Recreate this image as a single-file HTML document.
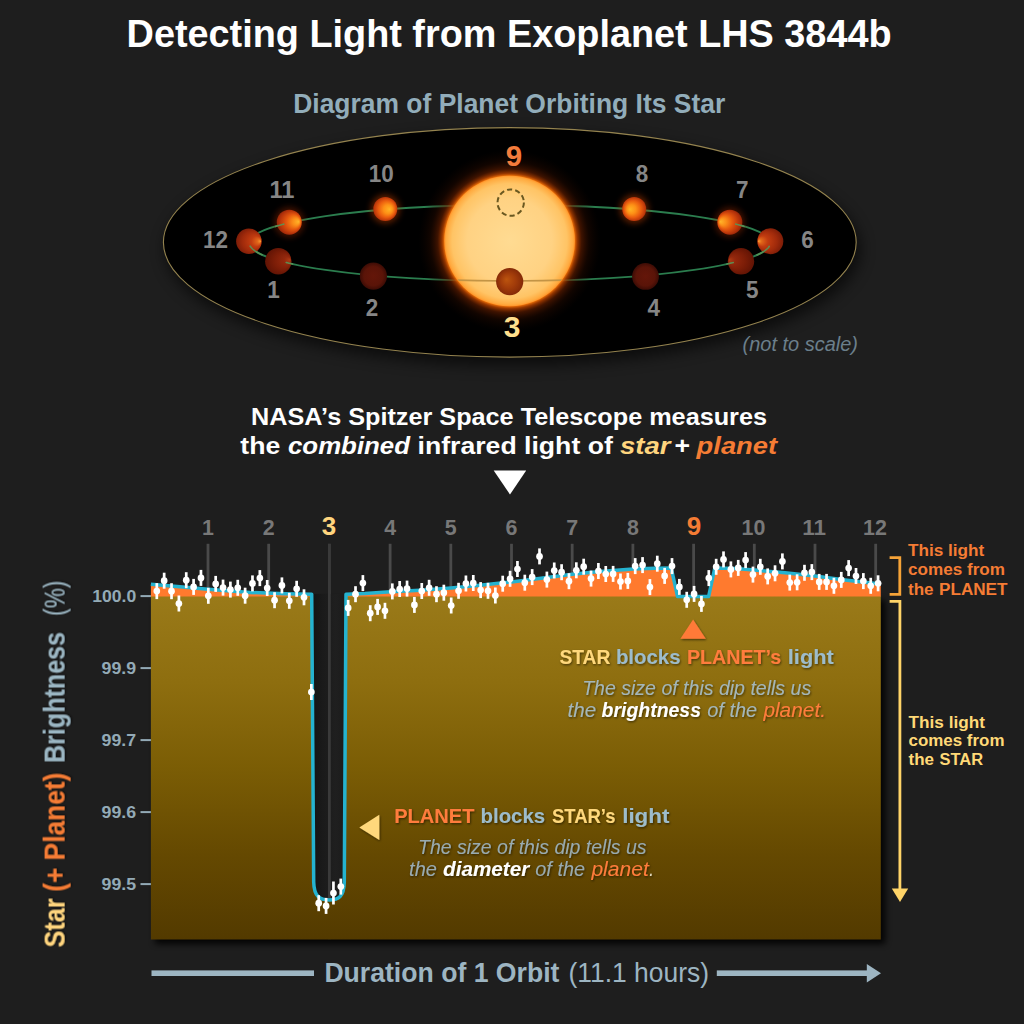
<!DOCTYPE html>
<html><head><meta charset="utf-8"><title>Detecting Light from Exoplanet LHS 3844b</title>
<style>
html,body{margin:0;padding:0;background:#1e1e1e;}
body{width:1024px;height:1024px;overflow:hidden;font-family:"Liberation Sans",sans-serif;}
svg{display:block;font-family:"Liberation Sans",sans-serif;}
</style></head><body>
<svg width="1024" height="1024" viewBox="0 0 1024 1024">
<defs>
<radialGradient id="gStar" cx="50%" cy="50%" r="50%">
<stop offset="0" stop-color="#ffdb92"/><stop offset="0.65" stop-color="#ffd283"/><stop offset="0.88" stop-color="#ffc465"/><stop offset="0.97" stop-color="#ffab40"/><stop offset="1" stop-color="#ff942a"/>
</radialGradient>
<radialGradient id="gGlow" cx="50%" cy="50%" r="50%">
<stop offset="0.675" stop-color="#f87808" stop-opacity="1"/><stop offset="0.705" stop-color="#b04000" stop-opacity="0.85"/><stop offset="0.75" stop-color="#6a2000" stop-opacity="0.6"/><stop offset="0.83" stop-color="#3a1000" stop-opacity="0.3"/><stop offset="0.95" stop-color="#200800" stop-opacity="0"/>
</radialGradient>
<radialGradient id="gLitR" cx="50%" cy="50%" r="56%" fx="88%" fy="48%">
<stop offset="0" stop-color="#ffb62a"/><stop offset="0.26" stop-color="#fb8c18"/><stop offset="0.54" stop-color="#e4560e"/><stop offset="0.82" stop-color="#b4320a"/><stop offset="1" stop-color="#862007"/>
</radialGradient>
<radialGradient id="gLitL" cx="50%" cy="50%" r="56%" fx="12%" fy="48%">
<stop offset="0" stop-color="#ffb62a"/><stop offset="0.26" stop-color="#fb8c18"/><stop offset="0.54" stop-color="#e4560e"/><stop offset="0.82" stop-color="#b4320a"/><stop offset="1" stop-color="#862007"/>
</radialGradient>
<radialGradient id="gLitC" cx="50%" cy="50%" r="54%" fx="68%" fy="52%">
<stop offset="0" stop-color="#ffb424"/><stop offset="0.35" stop-color="#fd9016"/><stop offset="0.65" stop-color="#ea5c0e"/><stop offset="0.88" stop-color="#c03a0a"/><stop offset="1" stop-color="#962608"/>
</radialGradient>
<radialGradient id="gLitC2" cx="50%" cy="50%" r="54%" fx="32%" fy="52%">
<stop offset="0" stop-color="#ffb424"/><stop offset="0.35" stop-color="#fd9016"/><stop offset="0.65" stop-color="#ea5c0e"/><stop offset="0.88" stop-color="#c03a0a"/><stop offset="1" stop-color="#962608"/>
</radialGradient>
<radialGradient id="gDark" cx="50%" cy="50%" r="50%">
<stop offset="0" stop-color="#641609"/><stop offset="0.7" stop-color="#5a1408"/><stop offset="1" stop-color="#3c0c05"/>
</radialGradient>
<radialGradient id="gDarkR" cx="50%" cy="50%" r="56%" fx="95%" fy="45%">
<stop offset="0" stop-color="#b03c14"/><stop offset="0.22" stop-color="#94280d"/><stop offset="0.6" stop-color="#7c1d07"/><stop offset="1" stop-color="#5c1204"/>
</radialGradient>
<radialGradient id="gDarkL" cx="50%" cy="50%" r="56%" fx="5%" fy="45%">
<stop offset="0" stop-color="#b03c14"/><stop offset="0.22" stop-color="#94280d"/><stop offset="0.6" stop-color="#7c1d07"/><stop offset="1" stop-color="#5c1204"/>
</radialGradient>
<radialGradient id="gHalfR" cx="50%" cy="50%" r="56%" fx="96%" fy="50%">
<stop offset="0" stop-color="#f89c30"/><stop offset="0.13" stop-color="#e0661a"/><stop offset="0.36" stop-color="#c23c10"/><stop offset="0.7" stop-color="#a02a0b"/><stop offset="1" stop-color="#741a07"/>
</radialGradient>
<radialGradient id="gHalfL" cx="50%" cy="50%" r="56%" fx="4%" fy="50%">
<stop offset="0" stop-color="#f89c30"/><stop offset="0.13" stop-color="#e0661a"/><stop offset="0.36" stop-color="#c23c10"/><stop offset="0.7" stop-color="#a02a0b"/><stop offset="1" stop-color="#741a07"/>
</radialGradient>
<radialGradient id="gP3" cx="50%" cy="50%" r="50%" fx="38%" fy="42%">
<stop offset="0" stop-color="#bc540e"/><stop offset="0.55" stop-color="#a23c0a"/><stop offset="1" stop-color="#842a07"/>
</radialGradient>
<linearGradient id="gDip" x1="0" y1="0" x2="1" y2="0"><stop offset="0" stop-color="#131313"/><stop offset="0.3" stop-color="#1a1a1a"/><stop offset="0.7" stop-color="#1f1f1f"/><stop offset="1" stop-color="#1b1b1b"/></linearGradient>
<linearGradient id="gGold" x1="0" y1="0" x2="0" y2="1">
<stop offset="0" stop-color="#9a7a19"/><stop offset="0.25" stop-color="#8e6e0f"/><stop offset="0.5" stop-color="#7b5d05"/><stop offset="0.75" stop-color="#654901"/><stop offset="1" stop-color="#533a00"/>
</linearGradient>
<filter id="blur6" x="-20%" y="-30%" width="140%" height="160%"><feGaussianBlur stdDeviation="7.5"/></filter>
<filter id="blur3" x="-50%" y="-50%" width="200%" height="200%"><feGaussianBlur stdDeviation="3"/></filter>
<filter id="blur35" x="-5%" y="-5%" width="110%" height="110%"><feGaussianBlur stdDeviation="3.2"/></filter>
<filter id="blur2" x="-50%" y="-50%" width="200%" height="200%"><feGaussianBlur stdDeviation="2.2"/></filter>
<filter id="tsh" x="-10%" y="-30%" width="120%" height="170%"><feDropShadow dx="0.8" dy="1.2" stdDeviation="1" flood-color="#000" flood-opacity="0.55"/></filter>
<clipPath id="clipStar"><circle cx="509.8" cy="241" r="65"/></clipPath>
</defs>
<rect width="1024" height="1024" fill="#1e1e1e"/>

<text x="126.6" y="47" font-size="39.3" font-weight="bold" font-style="normal" fill="#ffffff" text-anchor="start" textLength="765.0" lengthAdjust="spacingAndGlyphs" >Detecting Light from Exoplanet LHS 3844b</text>
<text x="293.2" y="113" font-size="28" font-weight="bold" font-style="normal" fill="#92adba" text-anchor="start" textLength="432.0" lengthAdjust="spacingAndGlyphs" >Diagram of Planet Orbiting Its Star</text>
<ellipse cx="512.8" cy="249.35" rx="347.4" ry="115.75" fill="#000" opacity="0.62" filter="url(#blur6)"/>
<ellipse cx="509.8" cy="242.35" rx="346.4" ry="114.75" fill="#000000" stroke="#94834f" stroke-width="1.1"/>
<ellipse cx="509.8" cy="243" rx="260.5" ry="38" fill="none" stroke="#2b7d4e" stroke-width="1.8"/>
<circle cx="385.3" cy="208.9" r="14.5" fill="#e04800" opacity="0.42" filter="url(#blur3)"/><circle cx="385.3" cy="208.9" r="12" fill="url(#gLitC)"/>
<circle cx="634.2" cy="209" r="14.5" fill="#e04800" opacity="0.42" filter="url(#blur3)"/><circle cx="634.2" cy="209" r="12" fill="url(#gLitC2)"/>
<circle cx="289.3" cy="222.2" r="15.0" fill="#a02c00" opacity="0.42" filter="url(#blur3)"/><circle cx="289.3" cy="222.2" r="12.5" fill="url(#gLitR)"/>
<circle cx="729.8" cy="222.2" r="15.0" fill="#a02c00" opacity="0.42" filter="url(#blur3)"/><circle cx="729.8" cy="222.2" r="12.5" fill="url(#gLitL)"/>
<circle cx="509.6" cy="241" r="96" fill="url(#gGlow)"/>
<circle cx="509.6" cy="241" r="65.3" fill="url(#gStar)"/>
<circle cx="510.7" cy="202.6" r="13.2" fill="none" stroke="#6a5820" stroke-width="2" stroke-dasharray="5.2 3.1"/>
<g clip-path="url(#clipStar)"><path d="M 249.3 243 A 260.5 38 0 0 0 770.3 243" fill="none" stroke="#c39445" stroke-width="1.7"/></g>
<circle cx="248.9" cy="241.3" r="12.8" fill="url(#gHalfR)"/>
<circle cx="770.3" cy="241.2" r="13" fill="url(#gHalfL)"/>
<circle cx="278.3" cy="261.2" r="13.2" fill="url(#gDarkR)"/>
<circle cx="741" cy="261.3" r="13.2" fill="url(#gDarkL)"/>
<circle cx="373.4" cy="276.1" r="13.6" fill="url(#gDark)"/>
<circle cx="645.5" cy="276.4" r="13.4" fill="url(#gDark)"/>
<circle cx="509.7" cy="281.6" r="13.6" fill="url(#gP3)"/>
<polyline points="250.2,246.2 251.4,247.8 252.6,249.0 253.7,250.0 254.9,250.9 256.1,251.6 257.3,252.3 258.5,253.0 259.6,253.6 260.8,254.2 262.0,254.7" fill="none" stroke="#5a9558" stroke-width="1.6" stroke-linecap="round" opacity="0.9"/>
<polyline points="275.5,226.4 276.3,226.1 277.2,225.9 278.0,225.7 278.8,225.4 279.6,225.2 280.5,225.0 281.3,224.7 282.1,224.5 283.0,224.3 283.8,224.1" fill="none" stroke="#5a9558" stroke-width="1.6" stroke-linecap="round" opacity="0.9"/>
<polyline points="286.2,262.5 286.8,262.6 287.5,262.8 288.1,263.0 288.7,263.1 289.4,263.2 290.0,263.4 290.6,263.5 291.2,263.7 291.9,263.8 292.5,264.0" fill="none" stroke="#5a9558" stroke-width="1.6" stroke-linecap="round" opacity="0.9"/>
<polyline points="769.3,246.3 768.1,248.0 766.8,249.2 765.6,250.2 764.4,251.1 763.1,251.8 761.9,252.6 760.7,253.2 759.5,253.8 758.2,254.4 757.0,255.0" fill="none" stroke="#5a9558" stroke-width="1.6" stroke-linecap="round" opacity="0.9"/>
<polyline points="744.0,226.4 743.2,226.1 742.3,225.9 741.5,225.6 740.7,225.4 739.9,225.2 739.0,224.9 738.2,224.7 737.4,224.5 736.5,224.3 735.7,224.1" fill="none" stroke="#5a9558" stroke-width="1.6" stroke-linecap="round" opacity="0.9"/>
<polyline points="733.3,262.5 732.7,262.7 732.0,262.8 731.4,263.0 730.8,263.1 730.1,263.3 729.5,263.4 728.9,263.6 728.3,263.7 727.6,263.8 727.0,264.0" fill="none" stroke="#5a9558" stroke-width="1.6" stroke-linecap="round" opacity="0.9"/>
<text x="642" y="181.8" font-size="23.5" font-weight="bold" font-style="normal" fill="#868686" text-anchor="middle" textLength="12.5" lengthAdjust="spacingAndGlyphs" >8</text>
<text x="742.2" y="198.4" font-size="23.5" font-weight="bold" font-style="normal" fill="#868686" text-anchor="middle" textLength="12.5" lengthAdjust="spacingAndGlyphs" >7</text>
<text x="807.5" y="248.3" font-size="23.5" font-weight="bold" font-style="normal" fill="#868686" text-anchor="middle" textLength="12.5" lengthAdjust="spacingAndGlyphs" >6</text>
<text x="752.3" y="297.6" font-size="23.5" font-weight="bold" font-style="normal" fill="#868686" text-anchor="middle" textLength="12.5" lengthAdjust="spacingAndGlyphs" >5</text>
<text x="653.7" y="315.7" font-size="23.5" font-weight="bold" font-style="normal" fill="#868686" text-anchor="middle" textLength="12.5" lengthAdjust="spacingAndGlyphs" >4</text>
<text x="371.9" y="315.7" font-size="23.5" font-weight="bold" font-style="normal" fill="#868686" text-anchor="middle" textLength="12.5" lengthAdjust="spacingAndGlyphs" >2</text>
<text x="273.6" y="297.7" font-size="23.5" font-weight="bold" font-style="normal" fill="#868686" text-anchor="middle" textLength="12.5" lengthAdjust="spacingAndGlyphs" >1</text>
<text x="215.6" y="248.3" font-size="23.5" font-weight="bold" font-style="normal" fill="#868686" text-anchor="middle" textLength="25.0" lengthAdjust="spacingAndGlyphs" >12</text>
<text x="282" y="198.2" font-size="23.5" font-weight="bold" font-style="normal" fill="#868686" text-anchor="middle" textLength="25.0" lengthAdjust="spacingAndGlyphs" >11</text>
<text x="381.3" y="181.8" font-size="23.5" font-weight="bold" font-style="normal" fill="#868686" text-anchor="middle" textLength="25.0" lengthAdjust="spacingAndGlyphs" >10</text>
<text x="514" y="165.9" font-size="29.5" font-weight="bold" font-style="normal" fill="#f47c3c" text-anchor="middle" >9</text>
<text x="512" y="337" font-size="30" font-weight="bold" font-style="normal" fill="#ffdf8c" text-anchor="middle" >3</text>
<text x="742.5" y="350.6" font-size="20" font-weight="normal" font-style="italic" fill="#6b7f8b" text-anchor="start" textLength="115.5" lengthAdjust="spacingAndGlyphs" >(not to scale)</text>
<text x="251" y="424.6" font-size="24.8" font-weight="bold" font-style="normal" fill="#fff" text-anchor="start" textLength="516.0" lengthAdjust="spacingAndGlyphs" >NASA’s Spitzer Space Telescope measures</text>
<text x="240.3" y="454" font-size="24.8" font-weight="bold" font-style="normal" fill="#fff" text-anchor="start" textLength="40.0" lengthAdjust="spacingAndGlyphs" >the</text>
<text x="288" y="454" font-size="24.8" font-weight="bold" font-style="italic" fill="#fff" text-anchor="start" textLength="122.0" lengthAdjust="spacingAndGlyphs" >combined</text>
<text x="417.5" y="454" font-size="24.8" font-weight="bold" font-style="normal" fill="#fff" text-anchor="start" textLength="195.3" lengthAdjust="spacingAndGlyphs" >infrared light of</text>
<text x="620" y="454" font-size="24.8" font-weight="bold" font-style="italic" fill="#ffd57e" text-anchor="start" textLength="50.5" lengthAdjust="spacingAndGlyphs" >star</text>
<text x="674.6" y="454" font-size="24.8" font-weight="bold" font-style="normal" fill="#fff" text-anchor="start" textLength="15.6" lengthAdjust="spacingAndGlyphs" >+</text>
<text x="696.6" y="454" font-size="24.8" font-weight="bold" font-style="italic" fill="#f57c34" text-anchor="start" textLength="80.5" lengthAdjust="spacingAndGlyphs" >planet</text>
<polygon points="493.7,470.6 526.2,470.6 510,494.6" fill="#ffffff"/>
<rect x="206.6" y="543.8" width="2.8" height="56.2" fill="#4a4a4a"/>
<rect x="267.3" y="543.8" width="2.8" height="56.2" fill="#4a4a4a"/>
<rect x="328.0" y="543.8" width="2.8" height="396.2" fill="#3d3d3d"/>
<rect x="388.7" y="543.8" width="2.8" height="56.2" fill="#4a4a4a"/>
<rect x="449.4" y="543.8" width="2.8" height="56.2" fill="#4a4a4a"/>
<rect x="510.1" y="543.8" width="2.8" height="56.2" fill="#4a4a4a"/>
<rect x="570.8" y="543.8" width="2.8" height="56.2" fill="#4a4a4a"/>
<rect x="631.5" y="543.8" width="2.8" height="56.2" fill="#4a4a4a"/>
<rect x="692.2" y="543.8" width="2.8" height="56.2" fill="#4a4a4a"/>
<rect x="752.9" y="543.8" width="2.8" height="56.2" fill="#4a4a4a"/>
<rect x="813.6" y="543.8" width="2.8" height="56.2" fill="#4a4a4a"/>
<rect x="874.3" y="543.8" width="2.8" height="56.2" fill="#4a4a4a"/>
<rect x="154.9" y="600.1" width="730.4" height="343.9" fill="#000" opacity="0.85" filter="url(#blur35)"/>
<rect x="312" y="594" width="34" height="306" fill="url(#gDip)"/>
<rect x="328.0" y="543.8" width="2.8" height="356" fill="#3a3a3a"/>
<path d="M 150.9 596.1 L 311.7 596.1 L 313.7 882 C 314.0 896.9 320 899.9 329.2 899.9 C 338.4 899.9 344.0 896.9 344.3 882 L 346.0 596.1 L 880.8 596.1 L 880.8 939.5 L 150.9 939.5 Z" fill="url(#gGold)"/>
<path d="M 150.9 584.3 L 180.0 586.8 L 208.0 589.3 L 250.0 592.4 L 285.0 593.8 L 311.6 594.3 L 311.7 596.6 L 150.9 596.6 Z" fill="#ff7a2e"/>
<path d="M 346.0 594.2 L 365.0 593.5 L 390.6 591.8 L 420.0 590.2 L 451.0 587.9 L 480.0 585.3 L 511.4 581.9 L 541.0 578.3 L 572.3 574.3 L 600.0 571.4 L 633.0 569.0 L 655.0 568.2 L 671.2 568.0 L 677.6 596.6 L 708.6 596.6 L 714.8 568.0 L 735.0 568.6 L 754.4 570.0 L 785.0 572.8 L 815.0 576.0 L 845.0 580.0 L 875.7 583.6 L 880.8 584.2 L 880.8 596.6 L 346.0 596.6 Z" fill="#ff7a2e"/>
<path d="M 150.9 584.3 L 180.0 586.8 L 208.0 589.3 L 250.0 592.4 L 285.0 593.8 L 311.6 594.3 L 311.7 594.3 L 313.7 882 C 314.0 896.9 320 899.9 329.2 899.9 C 338.4 899.9 344.0 896.9 344.3 882 L 346.0 594.2 L 365.0 593.5 L 390.6 591.8 L 420.0 590.2 L 451.0 587.9 L 480.0 585.3 L 511.4 581.9 L 541.0 578.3 L 572.3 574.3 L 600.0 571.4 L 633.0 569.0 L 655.0 568.2 L 671.2 568.0 L 677.6 596.6 L 708.6 596.6 L 714.8 568.0 L 735.0 568.6 L 754.4 570.0 L 785.0 572.8 L 815.0 576.0 L 845.0 580.0 L 875.7 583.6 L 880.8 584.2" fill="none" stroke="#25b3d0" stroke-width="3.5" stroke-linejoin="round"/>
<rect x="155.45" y="583.1" width="2.7" height="16" fill="#fff"/><circle cx="156.80" cy="591.1" r="3.35" fill="#fff"/>
<rect x="162.81" y="572.7" width="2.7" height="16" fill="#fff"/><circle cx="164.16" cy="580.7" r="3.35" fill="#fff"/>
<rect x="170.17" y="583.2" width="2.7" height="16" fill="#fff"/><circle cx="171.52" cy="591.2" r="3.35" fill="#fff"/>
<rect x="177.53" y="595.5" width="2.7" height="16" fill="#fff"/><circle cx="178.88" cy="603.5" r="3.35" fill="#fff"/>
<rect x="184.89" y="572.2" width="2.7" height="16" fill="#fff"/><circle cx="186.24" cy="580.2" r="3.35" fill="#fff"/>
<rect x="192.25" y="578.9" width="2.7" height="16" fill="#fff"/><circle cx="193.60" cy="586.9" r="3.35" fill="#fff"/>
<rect x="199.61" y="569.9" width="2.7" height="16" fill="#fff"/><circle cx="200.96" cy="577.9" r="3.35" fill="#fff"/>
<rect x="206.97" y="587.8" width="2.7" height="16" fill="#fff"/><circle cx="208.32" cy="595.8" r="3.35" fill="#fff"/>
<rect x="214.33" y="575.9" width="2.7" height="16" fill="#fff"/><circle cx="215.68" cy="583.9" r="3.35" fill="#fff"/>
<rect x="221.69" y="579.6" width="2.7" height="16" fill="#fff"/><circle cx="223.04" cy="587.6" r="3.35" fill="#fff"/>
<rect x="229.05" y="581.6" width="2.7" height="16" fill="#fff"/><circle cx="230.40" cy="589.6" r="3.35" fill="#fff"/>
<rect x="236.41" y="579.8" width="2.7" height="16" fill="#fff"/><circle cx="237.76" cy="587.8" r="3.35" fill="#fff"/>
<rect x="243.77" y="587.7" width="2.7" height="16" fill="#fff"/><circle cx="245.12" cy="595.7" r="3.35" fill="#fff"/>
<rect x="251.13" y="575.4" width="2.7" height="16" fill="#fff"/><circle cx="252.48" cy="583.4" r="3.35" fill="#fff"/>
<rect x="258.49" y="570.1" width="2.7" height="16" fill="#fff"/><circle cx="259.84" cy="578.1" r="3.35" fill="#fff"/>
<rect x="265.85" y="580.0" width="2.7" height="16" fill="#fff"/><circle cx="267.20" cy="588.0" r="3.35" fill="#fff"/>
<rect x="273.21" y="592.2" width="2.7" height="16" fill="#fff"/><circle cx="274.56" cy="600.2" r="3.35" fill="#fff"/>
<rect x="280.57" y="577.4" width="2.7" height="16" fill="#fff"/><circle cx="281.92" cy="585.4" r="3.35" fill="#fff"/>
<rect x="287.93" y="592.8" width="2.7" height="16" fill="#fff"/><circle cx="289.28" cy="600.8" r="3.35" fill="#fff"/>
<rect x="295.29" y="580.8" width="2.7" height="16" fill="#fff"/><circle cx="296.64" cy="588.8" r="3.35" fill="#fff"/>
<rect x="302.65" y="589.3" width="2.7" height="16" fill="#fff"/><circle cx="304.00" cy="597.3" r="3.35" fill="#fff"/>
<rect x="310.01" y="684.0" width="2.7" height="16" fill="#fff"/><circle cx="311.36" cy="692.0" r="3.35" fill="#fff"/>
<rect x="317.37" y="895.2" width="2.7" height="16" fill="#fff"/><circle cx="318.72" cy="903.2" r="3.35" fill="#fff"/>
<rect x="324.73" y="897.9" width="2.7" height="16" fill="#fff"/><circle cx="326.08" cy="905.9" r="3.35" fill="#fff"/>
<rect x="332.09" y="881.5" width="2.7" height="23.0" fill="#fff"/><circle cx="333.44" cy="893.0" r="3.35" fill="#fff"/>
<rect x="339.45" y="878.6" width="2.7" height="16" fill="#fff"/><circle cx="340.80" cy="886.6" r="3.35" fill="#fff"/>
<rect x="346.81" y="599.9" width="2.7" height="16" fill="#fff"/><circle cx="348.16" cy="607.9" r="3.35" fill="#fff"/>
<rect x="354.17" y="586.2" width="2.7" height="16" fill="#fff"/><circle cx="355.52" cy="594.2" r="3.35" fill="#fff"/>
<rect x="361.53" y="575.1" width="2.7" height="16" fill="#fff"/><circle cx="362.88" cy="583.1" r="3.35" fill="#fff"/>
<rect x="368.89" y="605.2" width="2.7" height="16" fill="#fff"/><circle cx="370.24" cy="613.2" r="3.35" fill="#fff"/>
<rect x="376.25" y="598.9" width="2.7" height="16" fill="#fff"/><circle cx="377.60" cy="606.9" r="3.35" fill="#fff"/>
<rect x="383.61" y="602.8" width="2.7" height="16" fill="#fff"/><circle cx="384.96" cy="610.8" r="3.35" fill="#fff"/>
<rect x="390.97" y="583.4" width="2.7" height="16" fill="#fff"/><circle cx="392.32" cy="591.4" r="3.35" fill="#fff"/>
<rect x="398.33" y="581.0" width="2.7" height="16" fill="#fff"/><circle cx="399.68" cy="589.0" r="3.35" fill="#fff"/>
<rect x="405.69" y="580.6" width="2.7" height="16" fill="#fff"/><circle cx="407.04" cy="588.6" r="3.35" fill="#fff"/>
<rect x="413.05" y="596.9" width="2.7" height="16" fill="#fff"/><circle cx="414.40" cy="604.9" r="3.35" fill="#fff"/>
<rect x="420.41" y="583.0" width="2.7" height="16" fill="#fff"/><circle cx="421.76" cy="591.0" r="3.35" fill="#fff"/>
<rect x="427.77" y="579.8" width="2.7" height="16" fill="#fff"/><circle cx="429.12" cy="587.8" r="3.35" fill="#fff"/>
<rect x="435.13" y="586.2" width="2.7" height="16" fill="#fff"/><circle cx="436.48" cy="594.2" r="3.35" fill="#fff"/>
<rect x="442.49" y="584.7" width="2.7" height="16" fill="#fff"/><circle cx="443.84" cy="592.7" r="3.35" fill="#fff"/>
<rect x="449.85" y="597.5" width="2.7" height="16" fill="#fff"/><circle cx="451.20" cy="605.5" r="3.35" fill="#fff"/>
<rect x="457.21" y="582.8" width="2.7" height="16" fill="#fff"/><circle cx="458.56" cy="590.8" r="3.35" fill="#fff"/>
<rect x="464.57" y="575.5" width="2.7" height="16" fill="#fff"/><circle cx="465.92" cy="583.5" r="3.35" fill="#fff"/>
<rect x="471.93" y="575.0" width="2.7" height="16" fill="#fff"/><circle cx="473.28" cy="583.0" r="3.35" fill="#fff"/>
<rect x="479.29" y="582.1" width="2.7" height="16" fill="#fff"/><circle cx="480.64" cy="590.1" r="3.35" fill="#fff"/>
<rect x="486.65" y="582.8" width="2.7" height="16" fill="#fff"/><circle cx="488.00" cy="590.8" r="3.35" fill="#fff"/>
<rect x="494.01" y="587.5" width="2.7" height="16" fill="#fff"/><circle cx="495.36" cy="595.5" r="3.35" fill="#fff"/>
<rect x="501.37" y="575.7" width="2.7" height="16" fill="#fff"/><circle cx="502.72" cy="583.7" r="3.35" fill="#fff"/>
<rect x="508.73" y="570.8" width="2.7" height="16" fill="#fff"/><circle cx="510.08" cy="578.8" r="3.35" fill="#fff"/>
<rect x="516.09" y="561.0" width="2.7" height="16" fill="#fff"/><circle cx="517.44" cy="569.0" r="3.35" fill="#fff"/>
<rect x="523.45" y="574.7" width="2.7" height="16" fill="#fff"/><circle cx="524.80" cy="582.7" r="3.35" fill="#fff"/>
<rect x="530.81" y="569.1" width="2.7" height="16" fill="#fff"/><circle cx="532.16" cy="577.1" r="3.35" fill="#fff"/>
<rect x="538.17" y="548.4" width="2.7" height="16" fill="#fff"/><circle cx="539.52" cy="556.4" r="3.35" fill="#fff"/>
<rect x="545.53" y="571.6" width="2.7" height="16" fill="#fff"/><circle cx="546.88" cy="579.6" r="3.35" fill="#fff"/>
<rect x="552.89" y="562.5" width="2.7" height="16" fill="#fff"/><circle cx="554.24" cy="570.5" r="3.35" fill="#fff"/>
<rect x="560.25" y="564.2" width="2.7" height="16" fill="#fff"/><circle cx="561.60" cy="572.2" r="3.35" fill="#fff"/>
<rect x="567.61" y="573.2" width="2.7" height="16" fill="#fff"/><circle cx="568.96" cy="581.2" r="3.35" fill="#fff"/>
<rect x="574.97" y="562.3" width="2.7" height="16" fill="#fff"/><circle cx="576.32" cy="570.3" r="3.35" fill="#fff"/>
<rect x="582.33" y="558.7" width="2.7" height="16" fill="#fff"/><circle cx="583.68" cy="566.7" r="3.35" fill="#fff"/>
<rect x="589.69" y="570.6" width="2.7" height="16" fill="#fff"/><circle cx="591.04" cy="578.6" r="3.35" fill="#fff"/>
<rect x="597.05" y="563.0" width="2.7" height="16" fill="#fff"/><circle cx="598.40" cy="571.0" r="3.35" fill="#fff"/>
<rect x="604.41" y="566.0" width="2.7" height="16" fill="#fff"/><circle cx="605.76" cy="574.0" r="3.35" fill="#fff"/>
<rect x="611.77" y="565.9" width="2.7" height="16" fill="#fff"/><circle cx="613.12" cy="573.9" r="3.35" fill="#fff"/>
<rect x="619.13" y="573.5" width="2.7" height="16" fill="#fff"/><circle cx="620.48" cy="581.5" r="3.35" fill="#fff"/>
<rect x="626.49" y="572.9" width="2.7" height="16" fill="#fff"/><circle cx="627.84" cy="580.9" r="3.35" fill="#fff"/>
<rect x="633.85" y="558.1" width="2.7" height="16" fill="#fff"/><circle cx="635.20" cy="566.1" r="3.35" fill="#fff"/>
<rect x="641.21" y="557.1" width="2.7" height="16" fill="#fff"/><circle cx="642.56" cy="565.1" r="3.35" fill="#fff"/>
<rect x="648.57" y="579.1" width="2.7" height="16" fill="#fff"/><circle cx="649.92" cy="587.1" r="3.35" fill="#fff"/>
<rect x="655.93" y="555.7" width="2.7" height="16" fill="#fff"/><circle cx="657.28" cy="563.7" r="3.35" fill="#fff"/>
<rect x="663.29" y="567.9" width="2.7" height="16" fill="#fff"/><circle cx="664.64" cy="575.9" r="3.35" fill="#fff"/>
<rect x="670.65" y="558.1" width="2.7" height="16" fill="#fff"/><circle cx="672.00" cy="566.1" r="3.35" fill="#fff"/>
<rect x="678.01" y="578.9" width="2.7" height="16" fill="#fff"/><circle cx="679.36" cy="586.9" r="3.35" fill="#fff"/>
<rect x="685.37" y="591.8" width="2.7" height="16" fill="#fff"/><circle cx="686.72" cy="599.8" r="3.35" fill="#fff"/>
<rect x="692.73" y="585.9" width="2.7" height="16" fill="#fff"/><circle cx="694.08" cy="593.9" r="3.35" fill="#fff"/>
<rect x="700.09" y="595.9" width="2.7" height="16" fill="#fff"/><circle cx="701.44" cy="603.9" r="3.35" fill="#fff"/>
<rect x="707.45" y="570.1" width="2.7" height="16" fill="#fff"/><circle cx="708.80" cy="578.1" r="3.35" fill="#fff"/>
<rect x="714.81" y="558.8" width="2.7" height="16" fill="#fff"/><circle cx="716.16" cy="566.8" r="3.35" fill="#fff"/>
<rect x="722.17" y="551.4" width="2.7" height="16" fill="#fff"/><circle cx="723.52" cy="559.4" r="3.35" fill="#fff"/>
<rect x="729.53" y="561.4" width="2.7" height="16" fill="#fff"/><circle cx="730.88" cy="569.4" r="3.35" fill="#fff"/>
<rect x="736.89" y="559.9" width="2.7" height="16" fill="#fff"/><circle cx="738.24" cy="567.9" r="3.35" fill="#fff"/>
<rect x="744.25" y="552.1" width="2.7" height="16" fill="#fff"/><circle cx="745.60" cy="560.1" r="3.35" fill="#fff"/>
<rect x="751.61" y="566.6" width="2.7" height="16" fill="#fff"/><circle cx="752.96" cy="574.6" r="3.35" fill="#fff"/>
<rect x="758.97" y="558.8" width="2.7" height="16" fill="#fff"/><circle cx="760.32" cy="566.8" r="3.35" fill="#fff"/>
<rect x="766.33" y="568.4" width="2.7" height="16" fill="#fff"/><circle cx="767.68" cy="576.4" r="3.35" fill="#fff"/>
<rect x="773.69" y="565.3" width="2.7" height="16" fill="#fff"/><circle cx="775.04" cy="573.3" r="3.35" fill="#fff"/>
<rect x="781.05" y="553.4" width="2.7" height="16" fill="#fff"/><circle cx="782.40" cy="561.4" r="3.35" fill="#fff"/>
<rect x="788.41" y="574.6" width="2.7" height="16" fill="#fff"/><circle cx="789.76" cy="582.6" r="3.35" fill="#fff"/>
<rect x="795.77" y="574.3" width="2.7" height="16" fill="#fff"/><circle cx="797.12" cy="582.3" r="3.35" fill="#fff"/>
<rect x="803.13" y="564.8" width="2.7" height="16" fill="#fff"/><circle cx="804.48" cy="572.8" r="3.35" fill="#fff"/>
<rect x="810.49" y="564.1" width="2.7" height="16" fill="#fff"/><circle cx="811.84" cy="572.1" r="3.35" fill="#fff"/>
<rect x="817.85" y="573.9" width="2.7" height="16" fill="#fff"/><circle cx="819.20" cy="581.9" r="3.35" fill="#fff"/>
<rect x="825.21" y="573.9" width="2.7" height="16" fill="#fff"/><circle cx="826.56" cy="581.9" r="3.35" fill="#fff"/>
<rect x="832.57" y="577.8" width="2.7" height="16" fill="#fff"/><circle cx="833.92" cy="585.8" r="3.35" fill="#fff"/>
<rect x="839.93" y="571.9" width="2.7" height="16" fill="#fff"/><circle cx="841.28" cy="579.9" r="3.35" fill="#fff"/>
<rect x="847.29" y="560.1" width="2.7" height="16" fill="#fff"/><circle cx="848.64" cy="568.1" r="3.35" fill="#fff"/>
<rect x="854.65" y="568.0" width="2.7" height="16" fill="#fff"/><circle cx="856.00" cy="576.0" r="3.35" fill="#fff"/>
<rect x="862.01" y="573.1" width="2.7" height="16" fill="#fff"/><circle cx="863.36" cy="581.1" r="3.35" fill="#fff"/>
<rect x="869.37" y="577.8" width="2.7" height="16" fill="#fff"/><circle cx="870.72" cy="585.8" r="3.35" fill="#fff"/>
<rect x="876.73" y="575.3" width="2.7" height="16" fill="#fff"/><circle cx="878.08" cy="583.3" r="3.35" fill="#fff"/>
<text x="208.0" y="534.8" font-size="21.8" font-weight="bold" font-style="normal" fill="#787878" text-anchor="middle" textLength="11.9" lengthAdjust="spacingAndGlyphs" >1</text>
<text x="268.7" y="534.8" font-size="21.8" font-weight="bold" font-style="normal" fill="#787878" text-anchor="middle" textLength="11.9" lengthAdjust="spacingAndGlyphs" >2</text>
<text x="329.0" y="534.9" font-size="26" font-weight="bold" font-style="normal" fill="#ffd57e" text-anchor="middle" >3</text>
<text x="390.1" y="534.8" font-size="21.8" font-weight="bold" font-style="normal" fill="#787878" text-anchor="middle" textLength="11.9" lengthAdjust="spacingAndGlyphs" >4</text>
<text x="450.8" y="534.8" font-size="21.8" font-weight="bold" font-style="normal" fill="#787878" text-anchor="middle" textLength="11.9" lengthAdjust="spacingAndGlyphs" >5</text>
<text x="511.5" y="534.8" font-size="21.8" font-weight="bold" font-style="normal" fill="#787878" text-anchor="middle" textLength="11.9" lengthAdjust="spacingAndGlyphs" >6</text>
<text x="572.2" y="534.8" font-size="21.8" font-weight="bold" font-style="normal" fill="#787878" text-anchor="middle" textLength="11.9" lengthAdjust="spacingAndGlyphs" >7</text>
<text x="632.9000000000001" y="534.8" font-size="21.8" font-weight="bold" font-style="normal" fill="#787878" text-anchor="middle" textLength="11.9" lengthAdjust="spacingAndGlyphs" >8</text>
<text x="693.9" y="534.9" font-size="26" font-weight="bold" font-style="normal" fill="#f57c34" text-anchor="middle" >9</text>
<text x="753.5000000000001" y="534.8" font-size="21.8" font-weight="bold" font-style="normal" fill="#787878" text-anchor="middle" textLength="23.8" lengthAdjust="spacingAndGlyphs" >10</text>
<text x="814.2" y="534.8" font-size="21.8" font-weight="bold" font-style="normal" fill="#787878" text-anchor="middle" textLength="23.8" lengthAdjust="spacingAndGlyphs" >11</text>
<text x="874.9000000000001" y="534.8" font-size="21.8" font-weight="bold" font-style="normal" fill="#787878" text-anchor="middle" textLength="23.8" lengthAdjust="spacingAndGlyphs" >12</text>
<text x="136.2" y="601.9" font-size="17.3" font-weight="bold" font-style="normal" fill="#93aab6" text-anchor="end" textLength="44.0" lengthAdjust="spacingAndGlyphs" >100.0</text>
<rect x="140.5" y="595.1" width="10.4" height="2" fill="#93aab6"/>
<text x="136.2" y="673.9" font-size="17.3" font-weight="bold" font-style="normal" fill="#93aab6" text-anchor="end" textLength="34.6" lengthAdjust="spacingAndGlyphs" >99.9</text>
<rect x="140.5" y="667.1" width="10.4" height="2" fill="#93aab6"/>
<text x="136.2" y="745.9" font-size="17.3" font-weight="bold" font-style="normal" fill="#93aab6" text-anchor="end" textLength="34.6" lengthAdjust="spacingAndGlyphs" >99.7</text>
<rect x="140.5" y="739.1" width="10.4" height="2" fill="#93aab6"/>
<text x="136.2" y="817.9" font-size="17.3" font-weight="bold" font-style="normal" fill="#93aab6" text-anchor="end" textLength="34.6" lengthAdjust="spacingAndGlyphs" >99.6</text>
<rect x="140.5" y="811.1" width="10.4" height="2" fill="#93aab6"/>
<text x="136.2" y="889.9" font-size="17.3" font-weight="bold" font-style="normal" fill="#93aab6" text-anchor="end" textLength="34.6" lengthAdjust="spacingAndGlyphs" >99.5</text>
<rect x="140.5" y="883.1" width="10.4" height="2" fill="#93aab6"/>
<g transform="translate(64.6 947.5) rotate(-90)" filter="url(#tsh)">
<text x="0" y="0" font-size="29" font-weight="bold" font-style="normal" fill="#ffd57e" text-anchor="start" textLength="49.2" lengthAdjust="spacingAndGlyphs" >Star</text>
<text x="55.7" y="0" font-size="29" font-weight="bold" font-style="normal" fill="#f57c34" text-anchor="start" textLength="119.1" lengthAdjust="spacingAndGlyphs" >(+ Planet)</text>
<text x="184.5" y="0" font-size="29" font-weight="bold" font-style="normal" fill="#9bb6c3" text-anchor="start" textLength="131.0" lengthAdjust="spacingAndGlyphs" >Brightness</text>
<text x="331.6" y="0" font-size="29" font-weight="normal" font-style="normal" fill="#9bb6c3" text-anchor="start" textLength="35.2" lengthAdjust="spacingAndGlyphs" >(%)</text>
</g>
<g filter="url(#tsh)">
<polygon points="693.1,619.4 705.8,638.8 680.4,638.8" fill="#ff7a38"/>
<text x="559.4" y="663.8" font-size="19.7" font-weight="bold" font-style="normal" fill="#ffd87c" text-anchor="start" textLength="51.0" lengthAdjust="spacingAndGlyphs" >STAR</text>
<text x="615.9" y="663.8" font-size="19.7" font-weight="bold" font-style="normal" fill="#9dbccb" text-anchor="start" textLength="64.7" lengthAdjust="spacingAndGlyphs" >blocks</text>
<text x="686.9" y="663.8" font-size="19.7" font-weight="bold" font-style="normal" fill="#ff7c3c" text-anchor="start" textLength="94.4" lengthAdjust="spacingAndGlyphs" >PLANET’s</text>
<text x="787.8" y="663.8" font-size="19.7" font-weight="bold" font-style="normal" fill="#9dbccb" text-anchor="start" textLength="46.0" lengthAdjust="spacingAndGlyphs" >light</text>
<text x="582.2" y="695" font-size="20" font-weight="normal" font-style="italic" fill="#a3b6ba" text-anchor="start" textLength="229.0" lengthAdjust="spacingAndGlyphs" >The size of this dip tells us</text>
<text x="567.5" y="717.2" font-size="20" font-weight="normal" font-style="italic" fill="#a3b6ba" text-anchor="start" textLength="28.8" lengthAdjust="spacingAndGlyphs" >the</text>
<text x="601.6" y="717.2" font-size="20" font-weight="bold" font-style="italic" fill="#ffffff" text-anchor="start" textLength="99.4" lengthAdjust="spacingAndGlyphs" >brightness</text>
<text x="707.2" y="717.2" font-size="20" font-weight="normal" font-style="italic" fill="#a3b6ba" text-anchor="start" textLength="50.0" lengthAdjust="spacingAndGlyphs" >of the</text>
<text x="763.4" y="717.2" font-size="20" font-weight="normal" font-style="italic" fill="#ff7c3c" text-anchor="start" textLength="62.6" lengthAdjust="spacingAndGlyphs" >planet.</text>
<polygon points="359.3,827.4 379.3,814.8 379.3,840" fill="#ffd87c"/>
<text x="394.2" y="823.2" font-size="19.7" font-weight="bold" font-style="normal" fill="#ff7c3c" text-anchor="start" textLength="80.3" lengthAdjust="spacingAndGlyphs" >PLANET</text>
<text x="480.5" y="823.2" font-size="19.7" font-weight="bold" font-style="normal" fill="#9dbccb" text-anchor="start" textLength="64.7" lengthAdjust="spacingAndGlyphs" >blocks</text>
<text x="551.9" y="823.2" font-size="19.7" font-weight="bold" font-style="normal" fill="#ffd87c" text-anchor="start" textLength="63.7" lengthAdjust="spacingAndGlyphs" >STAR’s</text>
<text x="622.2" y="823.2" font-size="19.7" font-weight="bold" font-style="normal" fill="#9dbccb" text-anchor="start" textLength="47.2" lengthAdjust="spacingAndGlyphs" >light</text>
<text x="418" y="853.7" font-size="20" font-weight="normal" font-style="italic" fill="#98aab0" text-anchor="start" textLength="228.5" lengthAdjust="spacingAndGlyphs" >The size of this dip tells us</text>
<text x="409.1" y="876.3" font-size="20" font-weight="normal" font-style="italic" fill="#98aab0" text-anchor="start" textLength="27.9" lengthAdjust="spacingAndGlyphs" >the</text>
<text x="443" y="876.3" font-size="20" font-weight="bold" font-style="italic" fill="#ffffff" text-anchor="start" textLength="86.3" lengthAdjust="spacingAndGlyphs" >diameter</text>
<text x="535.3" y="876.3" font-size="20" font-weight="normal" font-style="italic" fill="#98aab0" text-anchor="start" textLength="49.7" lengthAdjust="spacingAndGlyphs" >of the</text>
<text x="591.4" y="876.3" font-size="20" font-weight="normal" font-style="italic" fill="#ff7c3c" text-anchor="start" textLength="57.4" lengthAdjust="spacingAndGlyphs" >planet</text>
<text x="649.3" y="876.3" font-size="20" font-weight="normal" font-style="italic" fill="#e8e0c8" text-anchor="start" textLength="4.5" lengthAdjust="spacingAndGlyphs" >.</text>
</g>
<path d="M 889.6 557.7 L 899.8 557.7 L 899.8 594.4 L 889.6 594.4" fill="none" stroke="#f5a338" stroke-width="2.8"/>
<path d="M 889.6 601.4 L 899.9 601.4 L 899.9 889" fill="none" stroke="#ffd468" stroke-width="2.8"/>
<polygon points="891.8,888.6 908.2,888.6 900,901.9" fill="#ffd468"/>
<text x="908" y="555.6" font-size="17.2" font-weight="bold" font-style="normal" fill="#f57c34" text-anchor="start" textLength="76.3" lengthAdjust="spacingAndGlyphs" >This light</text>
<text x="908" y="575.2" font-size="17.2" font-weight="bold" font-style="normal" fill="#f57c34" text-anchor="start" textLength="97.0" lengthAdjust="spacingAndGlyphs" >comes from</text>
<text x="908" y="594.5" font-size="17.2" font-weight="bold" font-style="normal" fill="#f57c34" text-anchor="start" textLength="25.5" lengthAdjust="spacingAndGlyphs" >the</text>
<text x="939" y="594.5" font-size="17.2" font-weight="bold" font-style="normal" fill="#f57c34" text-anchor="start" textLength="68.5" lengthAdjust="spacingAndGlyphs" >PLANET</text>
<text x="908.5" y="727.5" font-size="17.2" font-weight="bold" font-style="normal" fill="#ffd977" text-anchor="start" textLength="76.5" lengthAdjust="spacingAndGlyphs" >This light</text>
<text x="908.5" y="746.2" font-size="17.2" font-weight="bold" font-style="normal" fill="#ffd977" text-anchor="start" textLength="96.0" lengthAdjust="spacingAndGlyphs" >comes from</text>
<text x="908.5" y="765" font-size="17.2" font-weight="bold" font-style="normal" fill="#ffd977" text-anchor="start" textLength="25.5" lengthAdjust="spacingAndGlyphs" >the</text>
<text x="939.5" y="765" font-size="17.2" font-weight="bold" font-style="normal" fill="#ffd977" text-anchor="start" textLength="43.5" lengthAdjust="spacingAndGlyphs" >STAR</text>
<rect x="151.5" y="970.4" width="162.5" height="5.6" fill="#9db5c2"/>
<text x="324.4" y="981.8" font-size="27" font-weight="bold" font-style="normal" fill="#9db5c2" text-anchor="start" textLength="235.0" lengthAdjust="spacingAndGlyphs" >Duration of 1 Orbit</text>
<text x="568.4" y="981.8" font-size="27" font-weight="normal" font-style="normal" fill="#9db5c2" text-anchor="start" textLength="140.6" lengthAdjust="spacingAndGlyphs" >(11.1 hours)</text>
<rect x="716.8" y="970.4" width="152" height="5.6" fill="#9db5c2"/>
<polygon points="866.8,964 881,973.2 866.8,982.4" fill="#9db5c2"/>
</svg></body></html>
